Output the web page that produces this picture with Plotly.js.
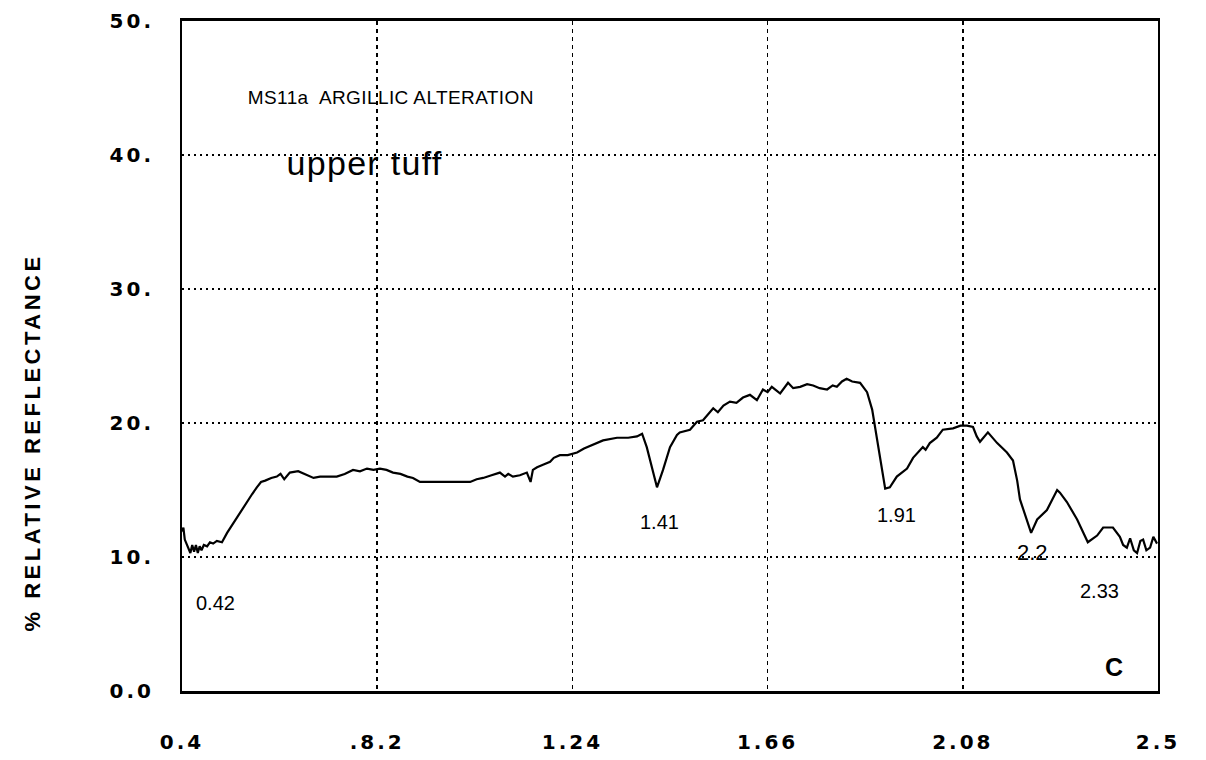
<!DOCTYPE html>
<html>
<head>
<meta charset="utf-8">
<script src="https://cdn.plot.ly/plotly-3.0.1.min.js"></script>
<style>
  html, body { margin: 0; padding: 0; background: #fff; }
  #chart { width: 1206px; height: 760px; }
  .xtick text, .ytick text { letter-spacing: 3px; }
  .annotation[data-index="0"] text { letter-spacing: 3.5px; }
  .annotation[data-index="1"] text { letter-spacing: 0.4px; }
  .annotation[data-index="2"] text { letter-spacing: 1.3px; }
</style>
</head>
<body>
<div id="chart"></div>
<script>
// Wavelength (micrometres) and % relative reflectance
const wavelength = [
  0.400, 0.403, 0.406, 0.413, 0.418, 0.422, 0.426, 0.430, 0.434, 0.438,
  0.442, 0.447, 0.454, 0.460, 0.467, 0.475, 0.486, 0.497, 0.508, 0.518,
  0.529, 0.540, 0.551, 0.561, 0.570, 0.579, 0.592, 0.604, 0.612, 0.620,
  0.632, 0.650, 0.669, 0.683, 0.697, 0.715, 0.733, 0.750, 0.768, 0.783,
  0.798, 0.812, 0.826, 0.840, 0.854, 0.870, 0.885, 0.897, 0.912, 0.940,
  0.970, 0.995, 1.020, 1.034, 1.048, 1.066, 1.084, 1.095, 1.102, 1.112,
  1.127, 1.142, 1.150, 1.155, 1.164, 1.178, 1.192, 1.200, 1.213, 1.230,
  1.250, 1.265, 1.284, 1.306, 1.336, 1.360, 1.379, 1.390, 1.400, 1.413,
  1.422, 1.435, 1.450, 1.465, 1.471, 1.493, 1.508, 1.521, 1.543, 1.553,
  1.565, 1.579, 1.593, 1.607, 1.622, 1.637, 1.650, 1.660, 1.669, 1.680,
  1.687, 1.704, 1.715, 1.730, 1.745, 1.758, 1.772, 1.788, 1.800, 1.809,
  1.820, 1.830, 1.842, 1.859, 1.874, 1.885, 1.891, 1.898, 1.906, 1.913,
  1.923, 1.938, 1.960, 1.973, 1.994, 2.000, 2.009, 2.024, 2.037, 2.059,
  2.075, 2.089, 2.102, 2.110, 2.117, 2.134, 2.154, 2.175, 2.188, 2.197,
  2.203, 2.218, 2.227, 2.240, 2.261, 2.283, 2.289, 2.304, 2.326, 2.349,
  2.369, 2.382, 2.403, 2.418, 2.425, 2.433, 2.440, 2.448, 2.455, 2.462,
  2.468, 2.475, 2.483, 2.490, 2.498
];
const reflectance = [
  11.9, 12.2, 11.3, 10.7, 10.3, 10.9, 10.4, 10.9, 10.3, 10.8,
  10.5, 10.9, 10.8, 11.1, 11.0, 11.2, 11.1, 11.8, 12.4, 13.0,
  13.6, 14.1, 14.7, 15.2, 15.6, 15.7, 15.9, 16.0, 16.2, 15.8,
  16.3, 16.4, 16.1, 15.9, 16.0, 16.0, 16.0, 16.2, 16.5, 16.4,
  16.6, 16.5, 16.6, 16.5, 16.3, 16.2, 16.0, 15.9, 15.6, 15.6,
  15.6, 15.6, 15.6, 15.8, 15.9, 16.1, 16.3, 16.0, 16.2, 16.0,
  16.1, 16.3, 15.6, 16.5, 16.7, 16.9, 17.1, 17.4, 17.6, 17.6,
  17.8, 18.1, 18.4, 18.7, 18.9, 18.9, 19.0, 19.2, 18.2, 16.5,
  15.2, 16.5, 18.2, 19.1, 19.3, 19.5, 20.1, 20.2, 21.1, 20.8,
  21.3, 21.6, 21.5, 21.9, 22.1, 21.7, 22.5, 22.3, 22.7, 22.4,
  22.2, 23.0, 22.6, 22.7, 22.9, 22.8, 22.6, 22.5, 22.8, 22.7,
  23.1, 23.3, 23.1, 23.0, 22.3, 21.0, 19.7, 18.2, 16.3, 15.1,
  15.2, 16.0, 16.6, 17.4, 18.2, 18.0, 18.5, 18.9, 19.5, 19.6,
  19.8, 19.8, 19.7, 19.0, 18.6, 19.3, 18.5, 17.8, 17.2, 15.7,
  14.3, 12.8, 11.8, 12.8, 13.5, 15.0, 14.8, 14.1, 12.8, 11.1,
  11.6, 12.2, 12.2, 11.5, 10.9, 10.7, 11.4, 10.5, 10.3, 11.2,
  11.3, 10.5, 10.7, 11.5, 11.0
];

// Axis ticks
const xTickVals = [0.4, 0.82, 1.24, 1.66, 2.08, 2.5];
const xTickText = ["0.4", ".8.2", "1.24", "1.66", "2.08", "2.5"];
const yTickVals = [0, 10, 20, 30, 40, 50];
const yTickText = ["0.0", "10.", "20.", "30.", "40.", "50."];

// Absorption feature labels
const featureText = ["0.42", "1.41", "1.91", "2.2", "2.33"];
const featureX    = [0.473, 1.428, 1.938, 2.229, 2.375];
const featureY    = [6.6, 12.6, 13.1, 10.3, 7.5];

const yTitle = "% RELATIVE REFLECTANCE";
const sampleTitle = "MS11a\u00a0 ARGILLIC ALTERATION";
const subTitle = "upper tuff";
const panelLetter = "C";

const trace = {
  x: wavelength,
  y: reflectance,
  type: "scatter",
  mode: "lines",
  line: { color: "#000", width: 2.2 },
  hoverinfo: "skip",
  showlegend: false
};

const annotations = [
  {
    text: yTitle, xref: "paper", yref: "paper",
    x: (33 - 182) / 976, y: (691 - 443) / 670,
    xanchor: "center", yanchor: "middle", textangle: -90, showarrow: false,
    font: { family: "Liberation Sans, Arial, sans-serif", size: 22, color: "#000", weight: "bold" }
  },
  {
    text: sampleTitle, xref: "x", yref: "y", x: 0.548, y: 44.3,
    xanchor: "left", yanchor: "middle", showarrow: false,
    font: { family: "Liberation Sans, Arial, sans-serif", size: 19, color: "#000" }
  },
  {
    text: subTitle, xref: "x", yref: "y", x: 0.634, y: 39.4,
    xanchor: "left", yanchor: "middle", showarrow: false,
    font: { family: "Liberation Sans, Arial, sans-serif", size: 34, color: "#000" }
  },
  {
    text: panelLetter, xref: "x", yref: "y", x: 2.405, y: 1.8,
    xanchor: "center", yanchor: "middle", showarrow: false,
    font: { family: "Liberation Sans, Arial, sans-serif", size: 25, color: "#000", weight: "bold" }
  }
];
featureText.forEach((t, i) => {
  annotations.push({
    text: t, xref: "x", yref: "y", x: featureX[i], y: featureY[i],
    xanchor: "center", yanchor: "middle", showarrow: false,
    font: { family: "Liberation Sans, Arial, sans-serif", size: t === "2.2" ? 22 : 20, color: "#000" }
  });
});

const layout = {
  width: 1206, height: 760, autosize: false,
  margin: { l: 182, r: 48, t: 21, b: 69, pad: 0 },
  paper_bgcolor: "#fff", plot_bgcolor: "#fff",
  showlegend: false,
  xaxis: {
    range: [0.4, 2.5], tickmode: "array", tickvals: xTickVals, ticktext: xTickText,
    showgrid: true, gridcolor: "#000", gridwidth: 1.5, griddash: "4px,4px",
    showline: true, linecolor: "#000", linewidth: 3, mirror: true,
    zeroline: false, ticks: "", ticklabelstandoff: 31,
    tickfont: { family: "DejaVu Sans, sans-serif", size: 20, color: "#000", weight: "bold" },
    fixedrange: true
  },
  yaxis: {
    range: [0, 50], tickmode: "array", tickvals: yTickVals, ticktext: yTickText,
    showgrid: true, gridcolor: "#000", gridwidth: 1.5, griddash: "2px,4px",
    showline: true, linecolor: "#000", linewidth: 2, mirror: true,
    zeroline: false, ticks: "", ticklabelstandoff: 22,
    tickfont: { family: "DejaVu Sans, sans-serif", size: 20, color: "#000", weight: "bold" },
    fixedrange: true
  },
  annotations: annotations
};

Plotly.newPlot("chart", [trace], layout, { displayModeBar: false, staticPlot: true });
</script>
</body>
</html>
